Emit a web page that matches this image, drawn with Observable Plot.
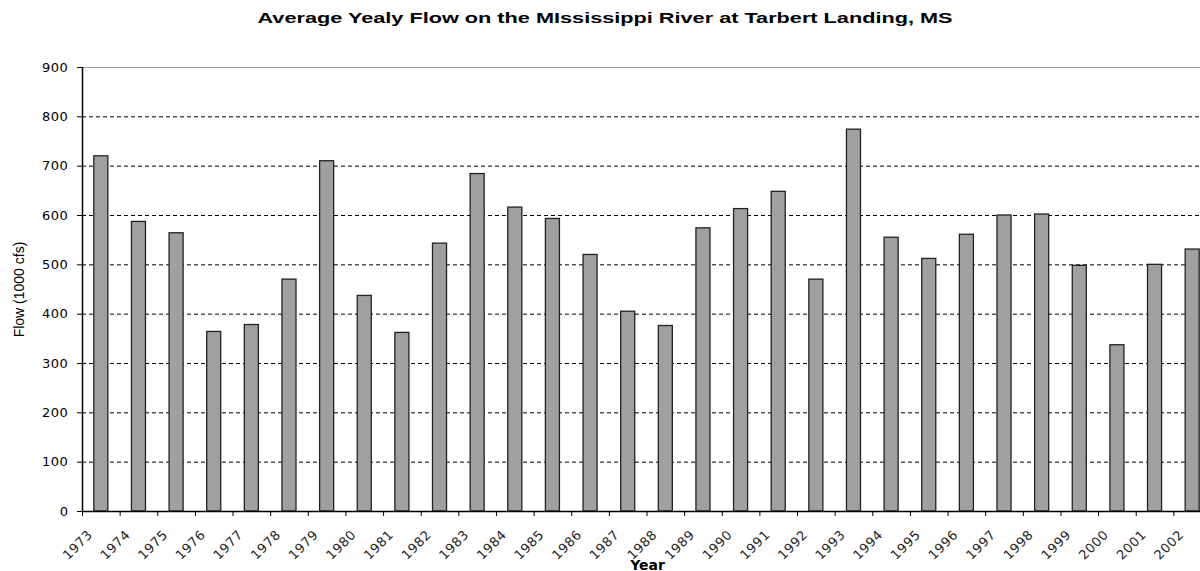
<!DOCTYPE html>
<html>
<head>
<meta charset="utf-8">
<script src="https://cdn.jsdelivr.net/npm/d3@7"></script>
<script src="https://cdn.jsdelivr.net/npm/@observablehq/plot@0.6"></script>
<style>
  html, body { margin: 0; padding: 0; background: #fff; overflow: hidden; }
  #wrap { position: relative; width: 1200px; height: 571px; }
  #title { position: relative; height: 40px; }
  #title span { position: absolute; left: 605px; top: 10px; white-space: nowrap;
    font: bold 15px "Liberation Sans", Arial, sans-serif; line-height: 1; color: #000;
    transform-origin: center center; }
  #chart svg text.tick { letter-spacing: 0.6px; }
</style>
</head>
<body>
<div id="wrap">
  <div id="title"><span id="tt">Average Yealy Flow on the MIssissippi River at Tarbert Landing, MS</span></div>
  <div id="chart"></div>
</div>
<script>
const years = [1973, 1974, 1975, 1976, 1977, 1978, 1979, 1980, 1981, 1982,
               1983, 1984, 1985, 1986, 1987, 1988, 1989, 1990, 1991, 1992,
               1993, 1994, 1995, 1996, 1997, 1998, 1999, 2000, 2001, 2002];
const flows = [720, 587, 564, 364, 378, 470, 710, 437, 362, 543,
               684, 616, 593, 520, 405, 376, 574, 613, 648, 470,
               774, 555, 512, 561, 600, 602, 498, 337, 500, 531];
const yTicks = [0, 100, 200, 300, 400, 500, 600, 700, 800, 900];
const gridValues = [100, 200, 300, 400, 500, 600, 700, 800];
const yLabel = "Flow (1000 cfs)";
const xLabel = "Year";

const data = years.map((year, i) => ({year, flow: flows[i]}));
const boundaries = years.map(y => y - 0.5).concat([years[years.length - 1] + 0.5]);

const chart = Plot.plot({
  width: 1200,
  height: 531,
  marginTop: 27,
  marginBottom: 60,
  marginLeft: 82,
  marginRight: 0,
  style: {fontFamily: "DejaVu Sans, sans-serif", fontSize: "13px", color: "#000", background: "#fff"},
  x: {domain: [1972.5, 2002.5], range: [82, 1211]},
  y: {domain: [0, 900]},
  marks: [
    Plot.ruleY(gridValues, {stroke: "#000", strokeWidth: 1, strokeDasharray: "4,3"}),
    Plot.ruleY([900], {stroke: "#999", strokeWidth: 1.2}),
    Plot.rectY(data, {x1: d => d.year - 0.5, x2: d => d.year + 0.5, y: "flow",
      insetLeft: 11.8, insetRight: 11.8, fill: "#a0a0a0", stroke: "#222", strokeWidth: 1.3}),
    Plot.ruleY([0], {stroke: "#000", strokeWidth: 1.3}),
    Plot.ruleX([1972.5], {y1: 0, y2: 900, stroke: "#000", strokeWidth: 1.5}),
    Plot.axisY({ticks: yTicks, tickSize: 5, tickPadding: 9, tickFormat: d => String(d), label: null}),
    Plot.axisX({ticks: boundaries, tickSize: 5, tickFormat: () => "", label: null}),
    Plot.text(years, {x: d => d, y: 0, text: d => String(d), rotate: -45,
      textAnchor: "end", lineAnchor: "middle", dx: -11, dy: 21, fill: "#222",
      className: "xlab"}),
    Plot.text([yLabel], {text: d => d, frameAnchor: "left", rotate: -90, dx: -63,
      fontFamily: "Liberation Sans, Arial, sans-serif", fontSize: 14, textAnchor: "middle"}),
    Plot.text([xLabel], {text: d => d, frameAnchor: "bottom", dx: 6, dy: 58,
      fontWeight: "bold", fontSize: 14, textAnchor: "middle"})
  ]
});
document.getElementById("chart").appendChild(chart);
chart.querySelectorAll("g[aria-label='y-axis tick label'] text, .xlab text")
  .forEach(t => t.setAttribute("class", "tick"));

const tt = document.getElementById("tt");
const w = tt.getBoundingClientRect().width;
tt.style.transform = `translateX(-50%) scaleX(${695 / w})`;
</script>
</body>
</html>
